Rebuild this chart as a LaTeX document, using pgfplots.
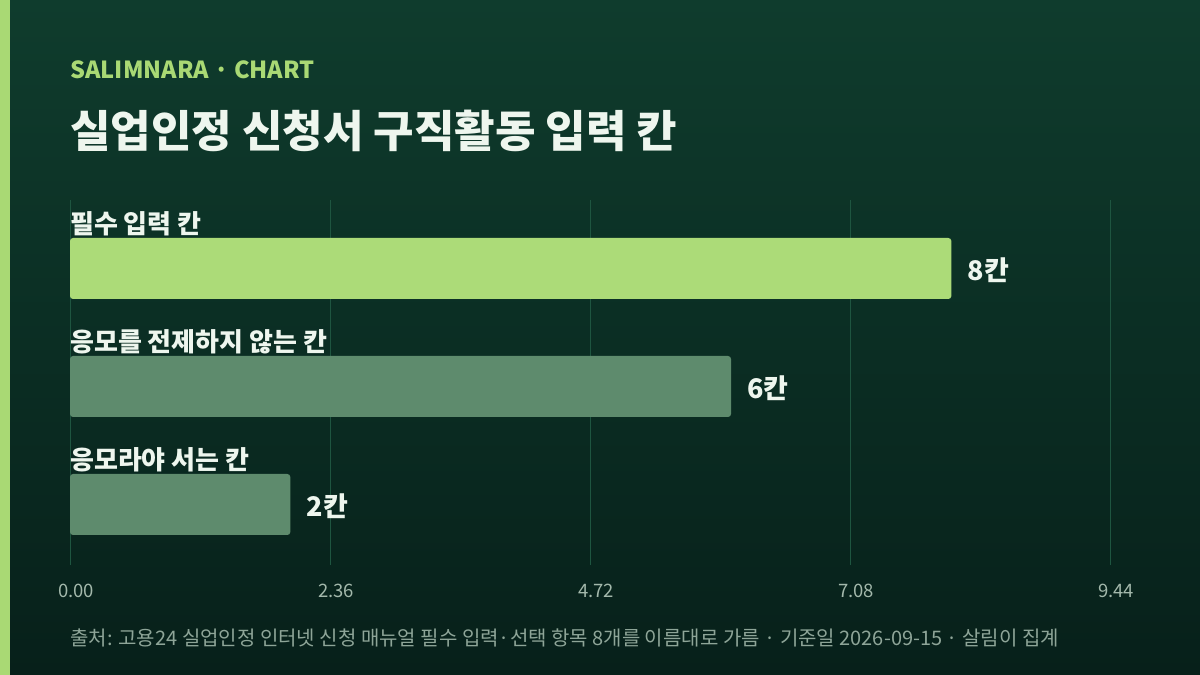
\documentclass[border=0pt]{standalone}
\usepackage{pgfplots}
\pgfplotsset{compat=1.18}
\usepackage{fontspec}
\setmainfont{Noto Sans CJK KR}
\definecolor{bgtop}{HTML}{0F3C2D}
\definecolor{bgbot}{HTML}{07201A}
\definecolor{accent}{HTML}{A9D974}
\definecolor{barA}{HTML}{ACDB78}
\definecolor{barB}{HTML}{5E8B6D}
\definecolor{gridc}{HTML}{1E5540}
\definecolor{titlec}{HTML}{EEF6EE}
\definecolor{tickc}{HTML}{A3B8AB}
\definecolor{footc}{HTML}{8EA598}
\begin{document}
\begin{tikzpicture}[x=1pt,y=1pt]
\shade[top color=bgtop, bottom color=bgbot] (0,0) rectangle (1200,675);
\fill[accent] (0,0) rectangle (10,675);
\node[anchor=base west, inner sep=0, text=accent, font=\fontsize{23.5}{27}\selectfont\bfseries] at (70,596) {SALIMNARA · CHART};
\node[anchor=base west, inner sep=0, text=titlec, font=\fontsize{44}{50}\selectfont\bfseries] at (70,527) {실업인정 신청서 구직활동 입력 칸};
\node[anchor=base west, inner sep=0, text=footc, font=\fontsize{20}{24}\selectfont] at (70,30) {출처: 고용24 실업인정 인터넷 신청 매뉴얼 필수 입력·선택 항목 8개를 이름대로 가름 · 기준일 2026-09-15 · 살림이 집계};
\begin{axis}[
  at={(70pt,110pt)}, anchor=south west,
  scale only axis, width=1040pt, height=365pt,
  xmin=0, xmax=9.44, ymin=0, ymax=365,
  clip=false,
  axis line style={draw=none},
  major tick length=0pt,
  ytick=\empty,
  xtick={0,2.36,4.72,7.08,9.44},
  xticklabel style={text=tickc, font=\fontsize{18.5}{22}\selectfont, yshift=-16pt, xshift=6pt},
  /pgf/number format/assume math mode=true,
  /pgf/number format/fixed, /pgf/number format/fixed zerofill, /pgf/number format/precision=2,
  xmajorgrids, grid style={gridc, line width=1pt},
  point meta=explicit symbolic,
  nodes near coords,
  nodes near coords style={anchor=west, xshift=13pt, yshift=-2pt, text=titlec, font=\fontsize{27}{31}\selectfont\bfseries},
]
\addplot[xbar, bar shift=0pt, bar width=61pt, fill=barA, draw=none, rounded corners=3pt] coordinates {(8,296.5) [8칸]};
\addplot[xbar, bar shift=0pt, bar width=61pt, fill=barB, draw=none, rounded corners=3pt] coordinates {(6,178.5) [6칸]};
\addplot[xbar, bar shift=0pt, bar width=61pt, fill=barB, draw=none, rounded corners=3pt] coordinates {(2,60.5) [2칸]};
\node[anchor=base west, inner sep=0, text=titlec, font=\fontsize{26}{30}\selectfont\bfseries] at (axis cs:0,331) {필수 입력 칸};
\node[anchor=base west, inner sep=0, text=titlec, font=\fontsize{26}{30}\selectfont\bfseries] at (axis cs:0,213) {응모를 전제하지 않는 칸};
\node[anchor=base west, inner sep=0, text=titlec, font=\fontsize{26}{30}\selectfont\bfseries] at (axis cs:0,95) {응모라야 서는 칸};
\end{axis}
\end{tikzpicture}
\end{document}
